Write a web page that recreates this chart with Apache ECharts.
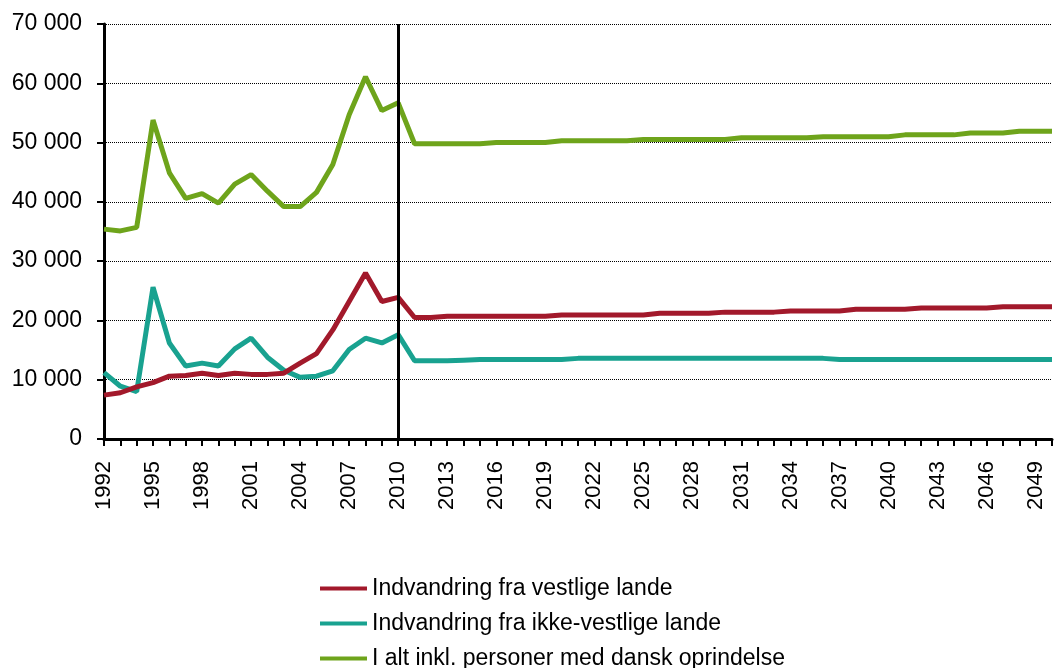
<!DOCTYPE html>
<html>
<head>
<meta charset="utf-8">
<script src="https://cdn.jsdelivr.net/npm/echarts@6/dist/echarts.min.js"></script>
<style>
  body { margin: 0; background: #fff; }
</style>
</head>
<body>
<div id="main" style="width: 1054px; height: 668px"></div>
<script>
var years = [
  "1992", "1993", "1994", "1995", "1996", "1997", "1998", "1999", "2000", "2001",
  "2002", "2003", "2004", "2005", "2006", "2007", "2008", "2009", "2010", "2011",
  "2012", "2013", "2014", "2015", "2016", "2017", "2018", "2019", "2020", "2021",
  "2022", "2023", "2024", "2025", "2026", "2027", "2028", "2029", "2030", "2031",
  "2032", "2033", "2034", "2035", "2036", "2037", "2038", "2039", "2040", "2041",
  "2042", "2043", "2044", "2045", "2046", "2047", "2048", "2049", "2050"
];

// Indvandring fra vestlige lande
var vestlige = [
  7400, 7800, 8800, 9500, 10600, 10700, 11100, 10700, 11100, 10900,
  10900, 11100, 12800, 14400, 18400, 23200, 28000, 23200, 23900, 20500,
  20500, 20700, 20700, 20700, 20700, 20700, 20700, 20700, 20900, 20900,
  20900, 20900, 20900, 20900, 21200, 21200, 21200, 21200, 21400, 21400,
  21400, 21400, 21600, 21600, 21600, 21600, 21900, 21900, 21900, 21900,
  22100, 22100, 22100, 22100, 22100, 22300, 22300, 22300, 22300
];

// Indvandring fra ikke-vestlige lande
var ikkeVestlige = [
  11200, 8900, 8000, 25600, 16200, 12300, 12800, 12300, 15200, 17000,
  13800, 11600, 10400, 10600, 11500, 15100, 17000, 16200, 17600, 13200,
  13200, 13200, 13300, 13400, 13400, 13400, 13400, 13400, 13400, 13600,
  13600, 13600, 13600, 13600, 13600, 13600, 13600, 13600, 13600, 13600,
  13600, 13600, 13600, 13600, 13600, 13400, 13400, 13400, 13400, 13400,
  13400, 13400, 13400, 13400, 13400, 13400, 13400, 13400, 13400
];

// I alt inkl. personer med dansk oprindelse
var iAlt = [
  35400, 35100, 35700, 53800, 44900, 40600, 41400, 39800, 43000, 44600,
  41800, 39200, 39200, 41600, 46300, 54700, 61100, 55400, 56700, 49800,
  49800, 49800, 49800, 49800, 50000, 50000, 50000, 50000, 50300, 50300,
  50300, 50300, 50300, 50500, 50500, 50500, 50500, 50500, 50500, 50800,
  50800, 50800, 50800, 50800, 51000, 51000, 51000, 51000, 51000, 51300,
  51300, 51300, 51300, 51600, 51600, 51600, 51900, 51900, 51900
];

var seriesNames = [
  "Indvandring fra vestlige lande",
  "Indvandring fra ikke-vestlige lande",
  "I alt inkl. personer med dansk oprindelse"
];

var yTicks = [0, 10000, 20000, 30000, 40000, 50000, 60000, 70000];
var splitYear = "2010";

var font = "Liberation Sans, Arial, sans-serif";

function fmt(v) {
  return String(v).replace(/\B(?=(\d{3})+(?!\d))/g, " ");
}

var myChart = echarts.init(document.getElementById("main"));
var option = {
  animation: false,
  backgroundColor: "#fff",
  textStyle: { fontFamily: font },
  grid: { left: 104, right: 2, top: 24, bottom: 229, containLabel: false },
  legend: {
    orient: "vertical",
    left: 320,
    top: 577,
    width: 700,
    height: 200,
    padding: 0,
    icon: "rect",
    itemWidth: 47,
    itemHeight: 4,
    itemGap: 12,
    data: seriesNames,
    textStyle: { fontSize: 23, color: "#000", fontFamily: font }
  },
  xAxis: {
    type: "category",
    data: years,
    boundaryGap: false,
    axisLine: { lineStyle: { color: "#000", width: 3 } },
    axisTick: { show: true, interval: 0, length: 7, lineStyle: { color: "#000", width: 2 } },
    axisLabel: {
      interval: 2,
      rotate: 90,
      margin: 22,
      fontSize: 22,
      color: "#000",
      fontFamily: font
    },
    splitLine: { show: false }
  },
  yAxis: {
    type: "value",
    min: yTicks[0],
    max: yTicks[yTicks.length - 1],
    interval: yTicks[1] - yTicks[0],
    axisLine: { show: true, lineStyle: { color: "#000", width: 3 } },
    axisTick: { show: true, length: 7, lineStyle: { color: "#000", width: 2 } },
    axisLabel: {
      margin: 22,
      fontSize: 23,
      color: "#000",
      fontFamily: font,
      formatter: fmt
    },
    splitLine: { show: true, lineStyle: { color: "#000", width: 1, type: [1, 1] } }
  },
  series: [
    {
      name: seriesNames[0],
      type: "line",
      data: vestlige,
      symbol: "none",
      color: "#A2192B",
      lineStyle: { width: 5 },
      z: 3,
      markLine: {
        silent: true,
        symbol: ["none", "none"],
        label: { show: false },
        lineStyle: { color: "#000", width: 3, type: "solid" },
        data: [{ xAxis: splitYear }]
      }
    },
    {
      name: seriesNames[1],
      type: "line",
      data: ikkeVestlige,
      symbol: "none",
      color: "#19A290",
      lineStyle: { width: 5 },
      z: 2
    },
    {
      name: seriesNames[2],
      type: "line",
      data: iAlt,
      symbol: "none",
      color: "#6EA41B",
      lineStyle: { width: 5 },
      z: 2
    }
  ]
};
myChart.setOption(option);
</script>
</body>
</html>
